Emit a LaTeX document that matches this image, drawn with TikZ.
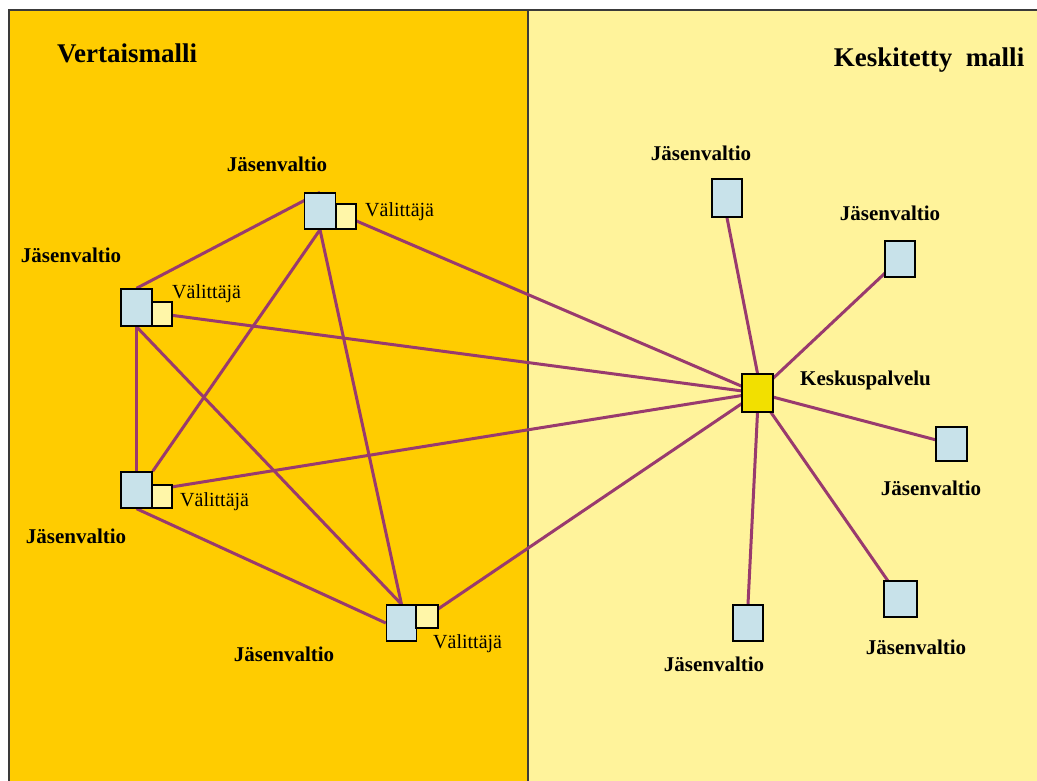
\documentclass[tikz,border=0pt]{standalone}
\usepackage{fontspec}
\setmainfont{Liberation Serif}
\pgfdeclarelayer{panel}
\pgfdeclarelayer{edges}
\pgfsetlayers{panel,edges,main}
\definecolor{leftbg}{HTML}{FFCC00}
\definecolor{rightbg}{HTML}{FFF39B}
\definecolor{sqblue}{HTML}{C8E2EA}
\definecolor{broker}{HTML}{FFF6A8}
\definecolor{central}{HTML}{F2E000}
\definecolor{linkc}{HTML}{993A6E}
\definecolor{frame}{HTML}{3A3A3A}
\tikzset{
  member/.style={draw=black, line width=1.4pt, fill=sqblue, inner sep=0pt, minimum width=31pt, minimum height=36pt},
  brokerbox/.style={draw=black, line width=1.4pt, fill=broker, inner sep=0pt, minimum width=20pt, minimum height=24pt},
  centralbox/.style={draw=black, line width=1.4pt, fill=central, inner sep=0pt, minimum width=31pt, minimum height=38pt},
  lbl/.style={font=\fontsize{21}{24}\selectfont\bfseries, anchor=base, inner sep=0pt},
  brk/.style={font=\fontsize{20}{24}\selectfont, anchor=base west, inner sep=0pt},
  title/.style={font=\fontsize{27}{30}\selectfont\bfseries, anchor=base, inner sep=0pt},
  link/.style={draw=linkc, line width=3pt}
}
\begin{document}
\begin{tikzpicture}[x=1pt,y=-1pt]
\useasboundingbox (0,0) rectangle (1037,781);
\begin{pgfonlayer}{panel}
  \fill[white] (0,0) rectangle (1037,781);
  \fill[leftbg] (9,10) rectangle (528,781);
  \fill[rightbg] (528,10) rectangle (1037,781);
  \draw[frame, line width=1.5pt] (9,781) -- (9,10) -- (1037,10);
  \draw[frame, line width=2.2pt] (528,10) -- (528,781);
\end{pgfonlayer}

% titles
\node[title] (t1) at (127,63) {Vertaismalli};
\node[title] (t2) at (929,67) {Keskitetty\ \ malli};

% peer model nodes
\node[member] (n1) at (320,211) {};
\node[brokerbox, minimum height=25pt] (b1) at (346,216.5) {};
\node[lbl] (l1) at (277,172) {Jäsenvaltio};
\node[brk] (v1) at (365,217) {Välittäjä};

\node[member, minimum height=37pt] (n2) at (136.5,307.5) {};
\node[brokerbox] (b2) at (162,314) {};
\node[lbl] (l2) at (71,262) {Jäsenvaltio};
\node[brk] (v2) at (172,298) {Välittäjä};

\node[member] (n3) at (136.5,490) {};
\node[brokerbox, minimum height=23pt] (b3) at (162,496.5) {};
\node[lbl] (l3) at (76,543) {Jäsenvaltio};
\node[brk] (v3) at (180,506) {Välittäjä};

\node[member, minimum width=30pt] (n4) at (401.5,623) {};
\node[brokerbox, minimum width=22pt, minimum height=23pt] (b4) at (427,616.5) {};
\node[lbl] (l4) at (284,661) {Jäsenvaltio};
\node[brk] (v4) at (433,648) {Välittäjä};

% central model nodes
\node[centralbox] (c) at (757.5,393) {};
\node[font=\fontsize{21}{24}\selectfont\bfseries, anchor=base west, inner sep=0pt] (cl) at (800,385) {Keskuspalvelu};

\node[member, minimum width=30pt, minimum height=38pt] (r1) at (727,198) {};
\node[lbl] (rl1) at (701,161) {Jäsenvaltio};
\node[member, minimum width=30pt] (r2) at (900,259) {};
\node[lbl] (rl2) at (890,220) {Jäsenvaltio};
\node[member, minimum height=34pt] (r3) at (951.5,444) {};
\node[lbl] (rl3) at (931,495) {Jäsenvaltio};
\node[member, minimum width=33pt] (r4) at (900.5,599) {};
\node[lbl] (rl4) at (916,654) {Jäsenvaltio};
\node[member, minimum width=30pt] (r5) at (748,623) {};
\node[lbl] (rl5) at (714,671) {Jäsenvaltio};

\begin{pgfonlayer}{edges}
  \draw[link] (n2.north) -- (n1.north);
  \draw[link] (n1.south) -- (n3.north east);
  \draw[link] (n1.south) -- (n4.north);
  \draw[link] (n2.south) -- (n3.north);
  \draw[link] (n2.south) -- (n4.north);
  \draw[link] (n3.south) -- (n4.west);
  \draw[link] (b1.center) -- (c.center);
  \draw[link] (b2.center) -- (c.center);
  \draw[link] ([yshift=8pt]b3.center) -- (c.center);
  \draw[link] (b4.center) -- (c.center);
  \draw[link] (c.north) -- (r1.south);
  \draw[link] (c.center) -- (r2.center);
  \draw[link] (c.center) -- (r3.center);
  \draw[link] (c.center) -- (r4.center);
  \draw[link] (c.south) -- (r5.north);
\end{pgfonlayer}
\end{tikzpicture}
\end{document}
